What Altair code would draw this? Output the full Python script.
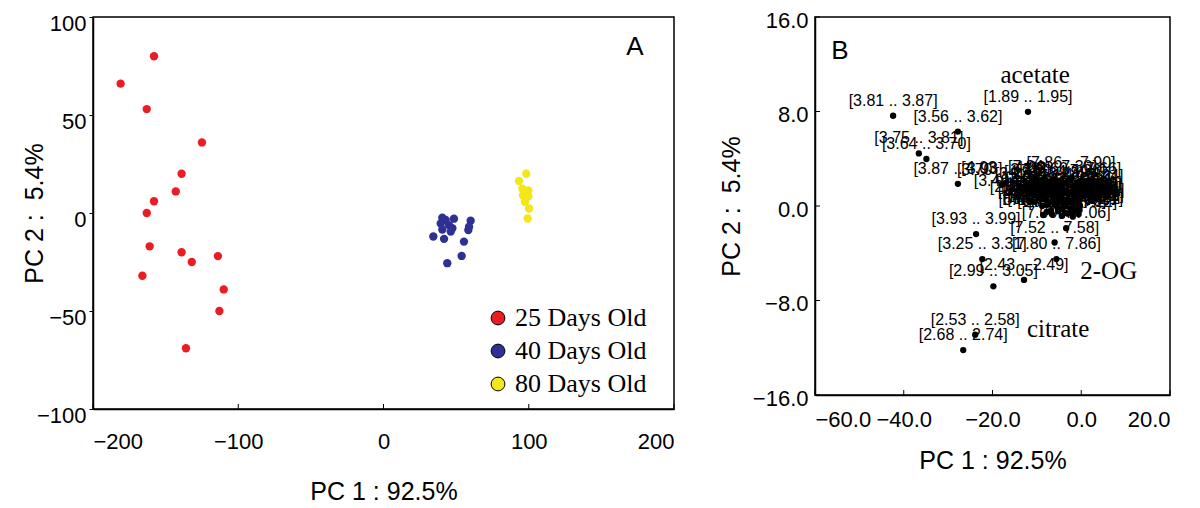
import altair as alt
import pandas as pd

# ---------------- Panel A data ----------------
group_names = ["25 Days Old", "40 Days Old", "80 Days Old"]
group_colors = ["#ec1c24", "#2e3192", "#f3e619"]

red_x = [-158, -181, -163, -125, -139, -143, -158, -163, -161, -139, -132, -114, -166, -110, -113, -136]
red_y = [80, 66, 53, 36, 20, 11, 6, 0, -17, -20, -25, -22, -32, -39, -50, -69]
blue_x = [40.5, 42.8, 48.5, 39.4, 45.1, 47.4, 60.0, 58.9, 58.4, 40.5, 46.3, 34.3, 41.7, 55.4, 53.8, 43.9]
blue_y = [-2.4, -3.6, -2.9, -5.3, -6.2, -7.8, -3.9, -7.0, -8.7, -8.4, -9.5, -12.0, -13.2, -14.6, -21.9, -25.6]
yellow_x = [98.3, 93.3, 95.6, 99.7, 97.9, 96.0, 99.7, 97.4, 100.2, 99.3]
yellow_y = [20.0, 16.3, 12.4, 11.5, 10.7, 9.0, 8.5, 5.7, 2.3, -2.8]

a_ticks_x = [-200, -100, 0, 100, 200]
a_ticks_y = [-100, -50, 0, 50, 100]

# ---------------- Panel B data ----------------
b_x = [-42.4, -27.8, -12.0, -36.6, -34.9, -27.8, -18.0, -23.7, -22.3, -19.8, -12.9, -6.0, -5.6,
       -23.9, -26.6, -2.3,
       -8.6, -4.4, -1.9, -3.4, -8.2, -7.6, -7.1, -6.8, -6.3, -5.9, -5.4, -5.0, -4.6, -4.1, -3.7,
       -3.3, -2.9, -2.5, -2.0, -1.6, -1.2, -0.9, -0.5, -0.3, -0.6, -9.5, -10.6, -14.2, -17.0, -6.5, -1.0,
       -7.8, -7.2, -6.6, -6.0, -5.6, -5.2, -4.8, -4.3, -3.9, -3.5, -3.1, -2.7, -2.2, -1.8, -1.4, -1.0,
       -0.4, -0.7, -8.8, -7.4]
b_y = [7.64, 6.3, 7.97, 4.45, 3.98, 1.88, 1.77, -2.38, -4.49, -6.8, -6.26, -3.09, -4.49,
       -10.9, -12.2, 2.36,
       -0.76, -0.84, -0.90, -1.88, 0.55, 0.10, 1.05, -0.35, 0.45, 1.35, -0.10, 0.75, 1.70, 0.25, -0.55,
       1.10, 0.50, -0.20, 0.95, 0.15, -0.45, 0.65, 1.25, 0.05, -0.70, 1.45, 0.35, 0.84, 1.95, 2.05, 1.90,
       -0.5, 0.3, -0.7, 0.1, 0.65, -0.45, 0.35, -0.25, 0.55, 0.0, -0.65, 0.3, -0.5, 0.45, -0.15, 0.25,
       -0.35, 0.5, 0.0, 1.6]
b_label = ["[3.81 .. 3.87]", "[3.56 .. 3.62]", "[1.89 .. 1.95]", "[3.75 .. 3.81]", "[3.64 .. 3.70]",
           "[3.87 .. 3.93]", "[3.70 .. 3.76]", "[3.93 .. 3.99]", "[3.25 .. 3.31]", "[2.99 .. 3.05]",
           "[2.43 .. 2.49]", "[7.52 .. 7.58]", "[7.80 .. 7.86]", "[2.53 .. 2.58]", "[2.68 .. 2.74]",
           "[7.86 .. 7.90]",
           "[6.88 .. 6.94]", "[6.70 .. 6.76]", "[7.06 .. 7.12]", "[7.00 .. 7.06]", "[2.05 .. 2.11]",
           "[1.45 .. 1.51]", "[3.34 .. 3.40]", "[2.11 .. 2.17]", "[1.31 .. 1.37]", "[4.09 .. 4.15]",
           "[2.29 .. 2.35]", "[1.17 .. 1.23]", "[7.30 .. 7.36]", "[2.17 .. 2.23]", "[0.89 .. 0.95]",
           "[5.21 .. 5.27]", "[1.03 .. 1.09]", "[3.09 .. 3.15]", "[8.25 .. 8.31]", "[2.35 .. 2.41]",
           "[7.42 .. 7.48]", "[4.15 .. 4.21]", "[7.18 .. 7.24]", "[0.95 .. 1.01]", "[3.15 .. 3.21]",
           "[3.22 .. 3.28]", "[2.23 .. 2.29]", "[3.40 .. 3.46]", "[4.03 .. 4.09]", "[7.24 .. 7.30]",
           "[7.60 .. 7.66]",
           "[1.51 .. 1.57]", "[2.41 .. 2.47]", "[6.94 .. 7.00]", "[1.23 .. 1.29]", "[3.52 .. 3.58]",
           "[7.12 .. 7.18]", "[2.59 .. 2.65]", "[1.37 .. 1.43]", "[3.99 .. 4.05]", "[2.74 .. 2.80]",
           "[7.48 .. 7.52]", "[4.21 .. 4.27]", "[6.76 .. 6.82]", "[1.57 .. 1.63]", "[2.80 .. 2.86]",
           "[4.27 .. 4.33]", "[8.45 .. 8.51]", "[1.63 .. 1.69]", "[2.47 .. 2.53]", "[4.33 .. 4.39]"]

ann_names = ["acetate", "2-OG", "citrate"]
ann_x = [-10.4, 6.2, -5.2]
ann_y = [11.1, -5.5, -10.4]

b_ticks_x = [-60, -40, -20, 0, 20]
b_ticks_y = [-16, -8, 0, 8, 16]

SANS = "Liberation Sans"
SERIF = "Liberation Serif"

WA, HA = 581, 392
WB, HB = 355, 378

# ---------------- Panel A ----------------
dfA = pd.DataFrame({
    "x": red_x + blue_x + yellow_x,
    "y": red_y + blue_y + yellow_y,
    "group": [group_names[0]] * len(red_x) + [group_names[1]] * len(blue_x) + [group_names[2]] * len(yellow_x),
})

xA = alt.X("x:Q", scale=alt.Scale(domain=[-200, 200], nice=False, zero=False),
           axis=alt.Axis(values=a_ticks_x, format="d", title="PC 1 : 92.5%",
                         labelPadding=22, titlePadding=27, ticks=False))
yA = alt.Y("y:Q", scale=alt.Scale(domain=[-100, 100], nice=False, zero=False),
           axis=alt.Axis(values=a_ticks_y, format="d", title="PC 2 :\u00a0 5.4%",
                         labelOffset=6, titlePadding=-11, tickSize=4, labelPadding=3))

pointsA = alt.Chart(dfA).mark_circle(size=70, opacity=1).encode(
    x=xA, y=yA,
    color=alt.Color("group:N", scale=alt.Scale(domain=group_names, range=group_colors),
                    legend=alt.Legend(title=None, orient="none", legendX=392, legendY=288,
                                      symbolType="circle", symbolSize=190,
                                      symbolStrokeColor="black", symbolStrokeWidth=1,
                                      labelFont=SERIF, labelFontSize=26, labelColor="black",
                                      rowPadding=7, labelOffset=4)),
)
ticksA = alt.Chart(pd.DataFrame({"x": a_ticks_x})).mark_rule(color="black", strokeWidth=1).encode(
    x=alt.X("x:Q"), y=alt.value(HA), y2=alt.value(HA - 5)
)
letterA = alt.Chart(pd.DataFrame({"t": ["A"]})).mark_text(
    font=SANS, fontSize=26, align="center", baseline="middle", color="black"
).encode(x=alt.value(542), y=alt.value(30), text="t:N")

panelA = alt.layer(pointsA, ticksA, letterA).properties(width=WA, height=HA)

# ---------------- Panel B ----------------
dfB = pd.DataFrame({"x": b_x, "y": b_y, "label": b_label})
dfAnn = pd.DataFrame({"x": ann_x, "y": ann_y, "name": ann_names})

xB = alt.X("x:Q", scale=alt.Scale(domain=[-60, 20], nice=False, zero=False),
           axis=alt.Axis(values=b_ticks_x, format=".1f", title="PC 1 : 92.5%",
                         labelPadding=14, titlePadding=18, ticks=False))
yB = alt.Y("y:Q", scale=alt.Scale(domain=[-16, 16], nice=False, zero=False),
           axis=alt.Axis(values=b_ticks_y, format=".1f", title="PC 2 :\u00a0 5.4%",
                         labelOffset=3, titlePadding=8, ticks=False, labelPadding=7))

textB = alt.Chart(dfB).mark_text(font=SANS, fontSize=16, dy=-15, align="center",
                                 baseline="middle", color="black").encode(x=xB, y=yB, text="label:N")
pointsB = alt.Chart(dfB).mark_circle(size=40, opacity=1, color="black").encode(x=xB, y=yB)
annB = alt.Chart(dfAnn).mark_text(font=SERIF, fontSize=25, align="center", baseline="middle",
                                  color="black").encode(x=xB, y=yB, text="name:N")
ticksBx = alt.Chart(pd.DataFrame({"x": b_ticks_x})).mark_rule(color="black", strokeWidth=1).encode(
    x=alt.X("x:Q"), y=alt.value(HB), y2=alt.value(HB - 5)
)
ticksBy = alt.Chart(pd.DataFrame({"y": b_ticks_y})).mark_rule(color="black", strokeWidth=1).encode(
    y=alt.Y("y:Q"), x=alt.value(0), x2=alt.value(5)
)
letterB = alt.Chart(pd.DataFrame({"t": ["B"]})).mark_text(
    font=SANS, fontSize=26, align="center", baseline="middle", color="black"
).encode(x=alt.value(25), y=alt.value(34), text="t:N")

panelB = alt.layer(textB, pointsB, annB, ticksBx, ticksBy, letterB).properties(width=WB, height=HB)

chart = alt.hconcat(panelA, panelB, spacing=141, bounds="flush").resolve_scale(
    color="independent", x="independent", y="independent"
).properties(
    padding={"left": 13, "top": 0, "right": 5, "bottom": 0},
    background="white"
).configure_view(
    stroke="black", strokeWidth=1.5
).configure_axis(
    grid=False, domainColor="black", domainWidth=1.5, tickColor="black", tickWidth=1,
    labelFont=SANS, labelFontSize=22, labelColor="black",
    titleFont=SANS, titleFontSize=25, titleFontWeight="normal", titleColor="black"
)

chart.save("out.html", embed_options={"renderer": "svg", "actions": False})
